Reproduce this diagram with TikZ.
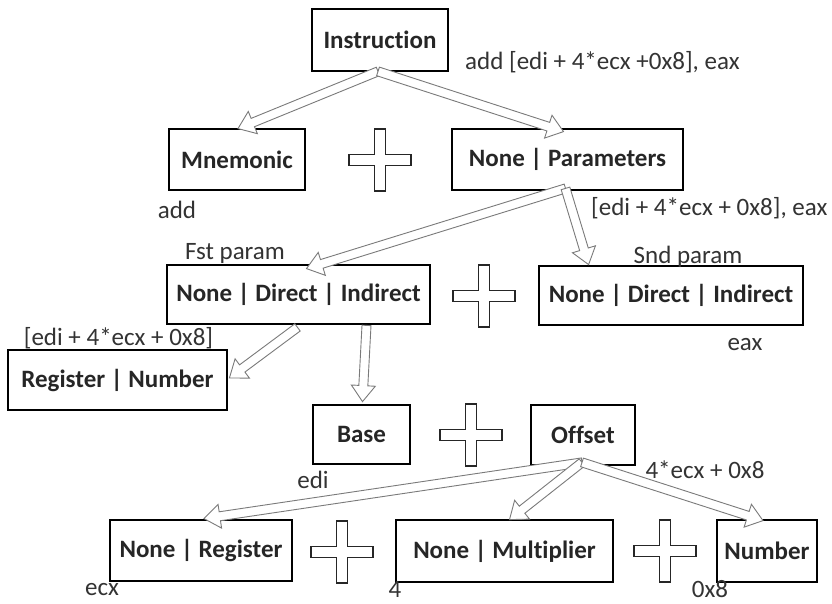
\documentclass[tikz,border=0pt]{standalone}
\usepackage{fontspec}
\setmainfont[Ligatures=NoCommon]{Carlito}
\usetikzlibrary{calc}
\definecolor{labelgray}{HTML}{333333}
\definecolor{arrowgray}{HTML}{7A7A7A}
\tikzset{
  box/.style={draw=black, line width=2.8pt, fill=white, inner sep=0pt,
    font=\fontsize{25}{30}\selectfont\bfseries, text=black!85},
  lbl/.style={inner sep=0pt, font=\fontsize{25}{30}\selectfont, text=labelgray},
  arrowline/.style={draw=arrowgray, line width=0.9pt, fill=white, line join=miter},
  plusline/.style={draw=black!85, line width=1.6pt, fill=white},
  plusmark/.pic={\path[plusline] (-5.5,-31) -- (5.5,-31) -- (5.5,-5.5) -- (31,-5.5)
    -- (31,5.5) -- (5.5,5.5) -- (5.5,31) -- (-5.5,31) -- (-5.5,5.5) -- (-31,5.5)
    -- (-31,-5.5) -- (-5.5,-5.5) -- cycle;}
}
% hollow block arrow from #1 to #2
\newcommand\hollowarrow[2]{%
  \path ($(#2)!16pt!(#1)$) coordinate (hb);
  \path[arrowline] ($(#1)!4.5pt!90:(#2)$) -- ($(hb)!4.5pt!90:(#2)$)
    -- ($(hb)!12pt!90:(#2)$) -- (#2) -- ($(hb)!12pt!-90:(#2)$)
    -- ($(hb)!4.5pt!-90:(#2)$) -- ($(#1)!4.5pt!-90:(#2)$) -- cycle;
}
\begin{document}
\begin{tikzpicture}[x=1pt, y=-1pt]
\useasboundingbox[fill=white] (0,0) rectangle (832,604);

% boxes
\node[box, minimum width=136pt, minimum height=62pt] (instr) at (380,40) {Instruction};
\node[box, minimum width=136pt, minimum height=61pt] (mnem) at (237,159.5) {Mnemonic};
\node[box, minimum width=231pt, minimum height=61pt] (params) at (567.5,159.5) {None | Parameters};
\node[box, minimum width=263pt, minimum height=59pt] (fst) at (298.5,294.5) {None | Direct | Indirect};
\node[box, minimum width=264pt, minimum height=59pt] (snd) at (671,295.5) {None | Direct | Indirect};
\node[box, minimum width=219pt, minimum height=60pt] (regnum) at (117.5,380) {Register | Number};
\node[box, minimum width=97pt, minimum height=59pt] (base) at (361.5,434.5) {Base};
\node[box, minimum width=104pt, minimum height=60pt] (offset) at (583,435) {Offset};
\node[box, minimum width=182pt, minimum height=61pt] (nreg) at (201,550.5) {None | Register};
\node[box, minimum width=217pt, minimum height=62pt] (nmul) at (504.5,551) {None | Multiplier};
\node[box, minimum width=100pt, minimum height=62pt] (num) at (767,551) {Number};

% plus signs
\pic at (380,160) {plusmark};
\pic at (484,296) {plusmark};
\pic at (471,435) {plusmark};
\pic at (342,552) {plusmark};
\pic at (665,551) {plusmark};

% labels
\node[lbl, anchor=west] (lInstr) at (465,62) {add [edi + 4*ecx +0x8], eax};
\node[lbl] (lMnem) at (177,210) {add};
\node[lbl, anchor=west] (lParams) at (591,208) {[edi + 4*ecx + 0x8], eax};
\node[lbl] (lFst) at (235,253) {Fst param};
\node[lbl] (lSnd) at (688,257) {Snd param};
\node[lbl] (lEax) at (745,345) {eax};
\node[lbl] (lInd) at (118.5,338) {[edi + 4*ecx + 0x8]};
\node[lbl] (lEdi) at (313,480) {edi};
\node[lbl] (lOff) at (705,470) {4*ecx + 0x8};
\node[lbl] (lEcx) at (102,590) {ecx};
\node[lbl] (lFour) at (395,589) {4};
\node[lbl] (lNum) at (710,589) {0x8};

% connector end points
\coordinate (iTail) at ($(instr.south)+(-2,-1)$);
\coordinate (mTip) at ($(mnem.north)+(1,1)$);
\coordinate (pTip) at ($(params.north)+(-4,4)$);
\coordinate (pTail) at ($(params.south)+(-2,-3)$);
\coordinate (fTip) at ($(fst.north)+(8,5)$);
\coordinate (sTip) at ($(snd.north west)+(51,0)$);
\coordinate (fTailA) at ($(fst.south)+(-1,2)$);
\coordinate (fTailB) at ($(fst.south)+(68,0)$);
\coordinate (rTip) at ($(regnum.east)+(1,-2)$);
\coordinate (bTip) at ($(base.north)+(1,-2)$);
\coordinate (oTail) at ($(offset.south)+(-1,-4)$);
\coordinate (nrTip) at ($(nreg.north)+(3,0)$);
\coordinate (nmTip) at ($(nmul.north)+(5,1)$);
\coordinate (nTip) at ($(num.north)+(-4,2)$);

% connectors
\hollowarrow{iTail}{mTip}
\hollowarrow{iTail}{pTip}
\hollowarrow{pTail}{fTip}
\hollowarrow{pTail}{sTip}
\hollowarrow{fTailA}{rTip}
\hollowarrow{fTailB}{bTip}
\hollowarrow{oTail}{nrTip}
\hollowarrow{oTail}{nmTip}
\hollowarrow{oTail}{nTip}
\end{tikzpicture}
\end{document}
